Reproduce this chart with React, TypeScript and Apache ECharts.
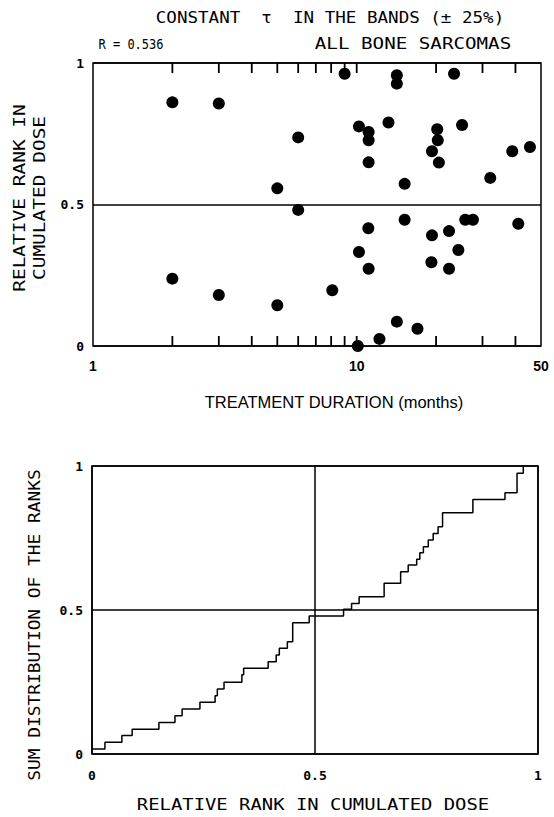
import React, { useEffect, useRef } from "react";
import * as echarts from "echarts";

// Top panel: treatment duration (months) vs relative rank in cumulated dose
const durations = [2, 3, 6, 5, 6, 2, 3, 5, 9, 14.2, 14.2, 23.4, 10.2, 11.1, 11.1, 13.2, 20.2, 25.1, 20.3, 19.3, 11.1, 20.5, 38.9, 45.4, 32.1, 15.2, 15.2, 11.07, 25.8, 27.6, 41, 22.4, 19.3, 10.2, 24.3, 11.1, 19.2, 22.4, 8.08, 14.2, 17, 12.2, 10.1];
const ranks = [0.861, 0.857, 0.737, 0.557, 0.481, 0.238, 0.18, 0.144, 0.962, 0.957, 0.927, 0.962, 0.776, 0.756, 0.727, 0.79, 0.766, 0.781, 0.727, 0.688, 0.649, 0.648, 0.688, 0.703, 0.594, 0.573, 0.446, 0.416, 0.446, 0.446, 0.432, 0.406, 0.391, 0.332, 0.339, 0.273, 0.296, 0.273, 0.197, 0.086, 0.061, 0.025, 0.0];

// Log-axis tick positions (months)
const durationTicks = [2, 3, 4, 5, 6, 7, 8, 9, 10, 20, 30, 40];

// Bottom panel: sum distribution of the ranks (step function)
const stepRank = [0, 0.029, 0.067, 0.09, 0.15, 0.186, 0.202, 0.242, 0.276, 0.281, 0.296, 0.336, 0.34, 0.395, 0.413, 0.42, 0.438, 0.45, 0.487, 0.564, 0.582, 0.599, 0.655, 0.692, 0.709, 0.728, 0.735, 0.743, 0.754, 0.765, 0.776, 0.786, 0.854, 0.926, 0.953, 0.967];
const stepSum = [0.017, 0.041, 0.064, 0.086, 0.109, 0.133, 0.156, 0.18, 0.202, 0.226, 0.249, 0.275, 0.298, 0.32, 0.344, 0.367, 0.39, 0.456, 0.479, 0.503, 0.523, 0.546, 0.593, 0.633, 0.656, 0.676, 0.699, 0.72, 0.743, 0.766, 0.789, 0.838, 0.884, 0.907, 0.975, 1.0];

const MONO = "DejaVu Sans Mono";

export default function App() {
  const ref = useRef<HTMLDivElement>(null);

  useEffect(() => {
    if (!ref.current) return;
    const chart = echarts.init(ref.current, null, { renderer: "svg" });

    const monoText = (text: string, x: number, y: number, size: number, sx: number, rot = 0) => ({
      type: "text",
      x,
      y,
      rotation: rot,
      scaleX: sx,
      style: {
        text,
        fill: "#000",
        font: `${size}px "${MONO}"`,
        textAlign: "center",
        textVerticalAlign: "middle",
      },
    });

    const frame = { show: true, borderColor: "#000", borderWidth: 1.5, backgroundColor: "transparent" };
    const black = { color: "#000", width: 1.5 };
    const numLabel = (margin: number) => ({
      color: "#000",
      fontFamily: MONO,
      fontWeight: "bold",
      fontSize: 13,
      margin,
      formatter: (v: number) => (v === 0.5 ? "0.5" : String(v)),
    });

    const texts: any[] = [
      monoText("CONSTANT  \u03c4  IN THE BANDS (\u00b1 25%)", 330, 18, 15, 1.17),
      monoText("R = 0.536", 131, 44, 14, 0.86),
      monoText("ALL BONE SARCOMAS", 413, 44, 15, 1.28),
      monoText("RELATIVE RANK IN", 20, 198, 15, 1.3, Math.PI / 2),
      monoText("CUMULATED DOSE", 40, 198, 15, 1.3, Math.PI / 2),
      {
        type: "text",
        x: 334,
        y: 402,
        style: {
          text: "TREATMENT DURATION (months)",
          fill: "#000",
          font: '16.5px "Liberation Sans"',
          textAlign: "center",
          textVerticalAlign: "middle",
        },
      },
      monoText("SUM DISTRIBUTION OF THE RANKS", 35, 625, 15, 1.19, Math.PI / 2),
      monoText("RELATIVE RANK IN CUMULATED DOSE", 313, 805, 15, 1.26),
    ];

    // Inward tick marks on the bottom and top edges of the log axis
    const bottomTicks = durationTicks.map((v) => [v, 0]);
    const topTicks = durationTicks.map((v) => [v, 1]);
    const tickSeries = (data: number[][], dir: number) => ({
      type: "scatter",
      xAxisIndex: 0,
      yAxisIndex: 0,
      data,
      symbol: "rect",
      symbolSize: [1.8, 10],
      symbolOffset: [0, dir * 5],
      itemStyle: { color: "#000", opacity: 1 },
      clip: false,
      silent: true,
      z: 10,
    });

    const option: any = {
      animation: false,
      backgroundColor: "#fff",
      grid: [
        { left: 93, top: 63, width: 448, height: 283, ...frame },
        { left: 92, top: 466, width: 446, height: 288, ...frame },
      ],
      xAxis: [
        {
          gridIndex: 0,
          type: "log",
          logBase: 10,
          min: 1,
          max: 50,
          axisLine: { show: false },
          axisTick: { show: false },
          splitLine: { show: false },
          axisLabel: {
            color: "#000",
            fontFamily: "Liberation Sans",
            fontWeight: "bold",
            fontSize: 14,
            margin: 13,
            formatter: (v: number) => String(Math.round(v)),
          },
        },
        {
          gridIndex: 1,
          type: "value",
          min: 0,
          max: 1,
          interval: 0.5,
          axisLine: { show: false },
          axisTick: { show: false },
          splitLine: { show: true, lineStyle: black },
          axisLabel: numLabel(15),
        },
      ],
      yAxis: [
        {
          gridIndex: 0,
          type: "value",
          min: 0,
          max: 1,
          interval: 0.5,
          axisLine: { show: false },
          axisTick: { show: false },
          splitLine: { show: true, lineStyle: black },
          axisLabel: numLabel(9),
        },
        {
          gridIndex: 1,
          type: "value",
          min: 0,
          max: 1,
          interval: 0.5,
          axisLine: { show: false },
          axisTick: { show: false },
          splitLine: { show: true, lineStyle: black },
          axisLabel: numLabel(9),
        },
      ],
      series: [
        {
          type: "scatter",
          xAxisIndex: 0,
          yAxisIndex: 0,
          data: durations.map((d, i) => [d, ranks[i]]),
          symbol: "circle",
          symbolSize: 12,
          itemStyle: { color: "#000", opacity: 1 },
          clip: false,
          silent: true,
        },
        tickSeries(bottomTicks, -1),
        tickSeries(topTicks, 1),
        {
          type: "line",
          xAxisIndex: 1,
          yAxisIndex: 1,
          data: stepRank.map((r, i) => [r, stepSum[i]]),
          step: "end",
          symbol: "none",
          showSymbol: false,
          lineStyle: { color: "#000", width: 1.5 },
          clip: false,
          silent: true,
        },
      ],
      graphic: texts,
    };

    chart.setOption(option);

    return () => chart.dispose();
  }, []);

  return (
    <div
      ref={ref}
      style={{ position: "absolute", left: 0, top: 0, width: 554, height: 817 }}
    />
  );
}
